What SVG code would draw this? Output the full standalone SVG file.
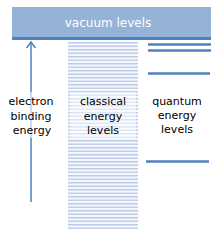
<svg xmlns="http://www.w3.org/2000/svg" width="220" height="236" viewBox="0 0 220 236">
<style>
.lbl{font-family:"DejaVu Sans",Verdana,sans-serif;font-size:11px;fill:#000;text-anchor:middle}
.q{stroke:#4f81bd;stroke-width:2.5}
</style>
<defs>
<pattern id="cl" x="68" y="42" width="70" height="7" patternUnits="userSpaceOnUse">
<rect x="0" y="0" width="70" height="7" fill="#f4f7fc"/>
<rect x="0" y="0" width="70" height="1.5" fill="#b9cde6"/>
<rect x="0" y="3.5" width="70" height="1.5" fill="#c5cdea"/>
</pattern>
<marker id="ah" markerWidth="10" markerHeight="12" refX="8" refY="6" orient="auto" markerUnits="userSpaceOnUse">
<path d="M2,1.5 L8,6 L2,10.5" fill="none" stroke="#4f81bd" stroke-width="1.5"/>
</marker>
</defs>
<rect width="220" height="236" fill="#fff"/>
<g id="vacuum">
<rect x="12" y="7" width="199" height="31" fill="#95b3d7"/>
<rect x="12" y="37" width="199" height="3" fill="#4f81bd"/>
<text x="108" y="27" class="lbl" style="fill:#fff;font-size:12px">vacuum levels</text>
</g>
<g id="classical">
<rect x="68" y="42" width="70" height="187" fill="url(#cl)"/>
<rect x="70" y="92" width="66" height="46" fill="#fff" opacity="0.5"/>
<text class="lbl" x="103" y="105">classical</text>
<text class="lbl" x="103" y="120">energy</text>
<text class="lbl" x="103" y="134">levels</text>
</g>
<g id="quantum">
<line class="q" x1="148" y1="44.5" x2="211" y2="44.5"/>
<line class="q" x1="148" y1="50.5" x2="211" y2="50.5"/>
<line class="q" x1="148" y1="73.5" x2="210" y2="73.5"/>
<line class="q" x1="146" y1="161.5" x2="209" y2="161.5"/>
<text class="lbl" x="177" y="105">quantum</text>
<text class="lbl" x="177" y="119">energy</text>
<text class="lbl" x="177" y="133">levels</text>
</g>
<g id="connectors">
<line x1="31" y1="202" x2="31" y2="42" stroke="#4f81bd" stroke-width="1.5" marker-end="url(#ah)"/>
</g>
<g id="binding">
<rect x="4" y="92" width="54" height="46" fill="#fff" opacity="0.6"/>
<text class="lbl" x="31" y="105">electron</text>
<text class="lbl" x="31" y="120">binding</text>
<text class="lbl" x="32" y="134">energy</text>
</g>
</svg>
